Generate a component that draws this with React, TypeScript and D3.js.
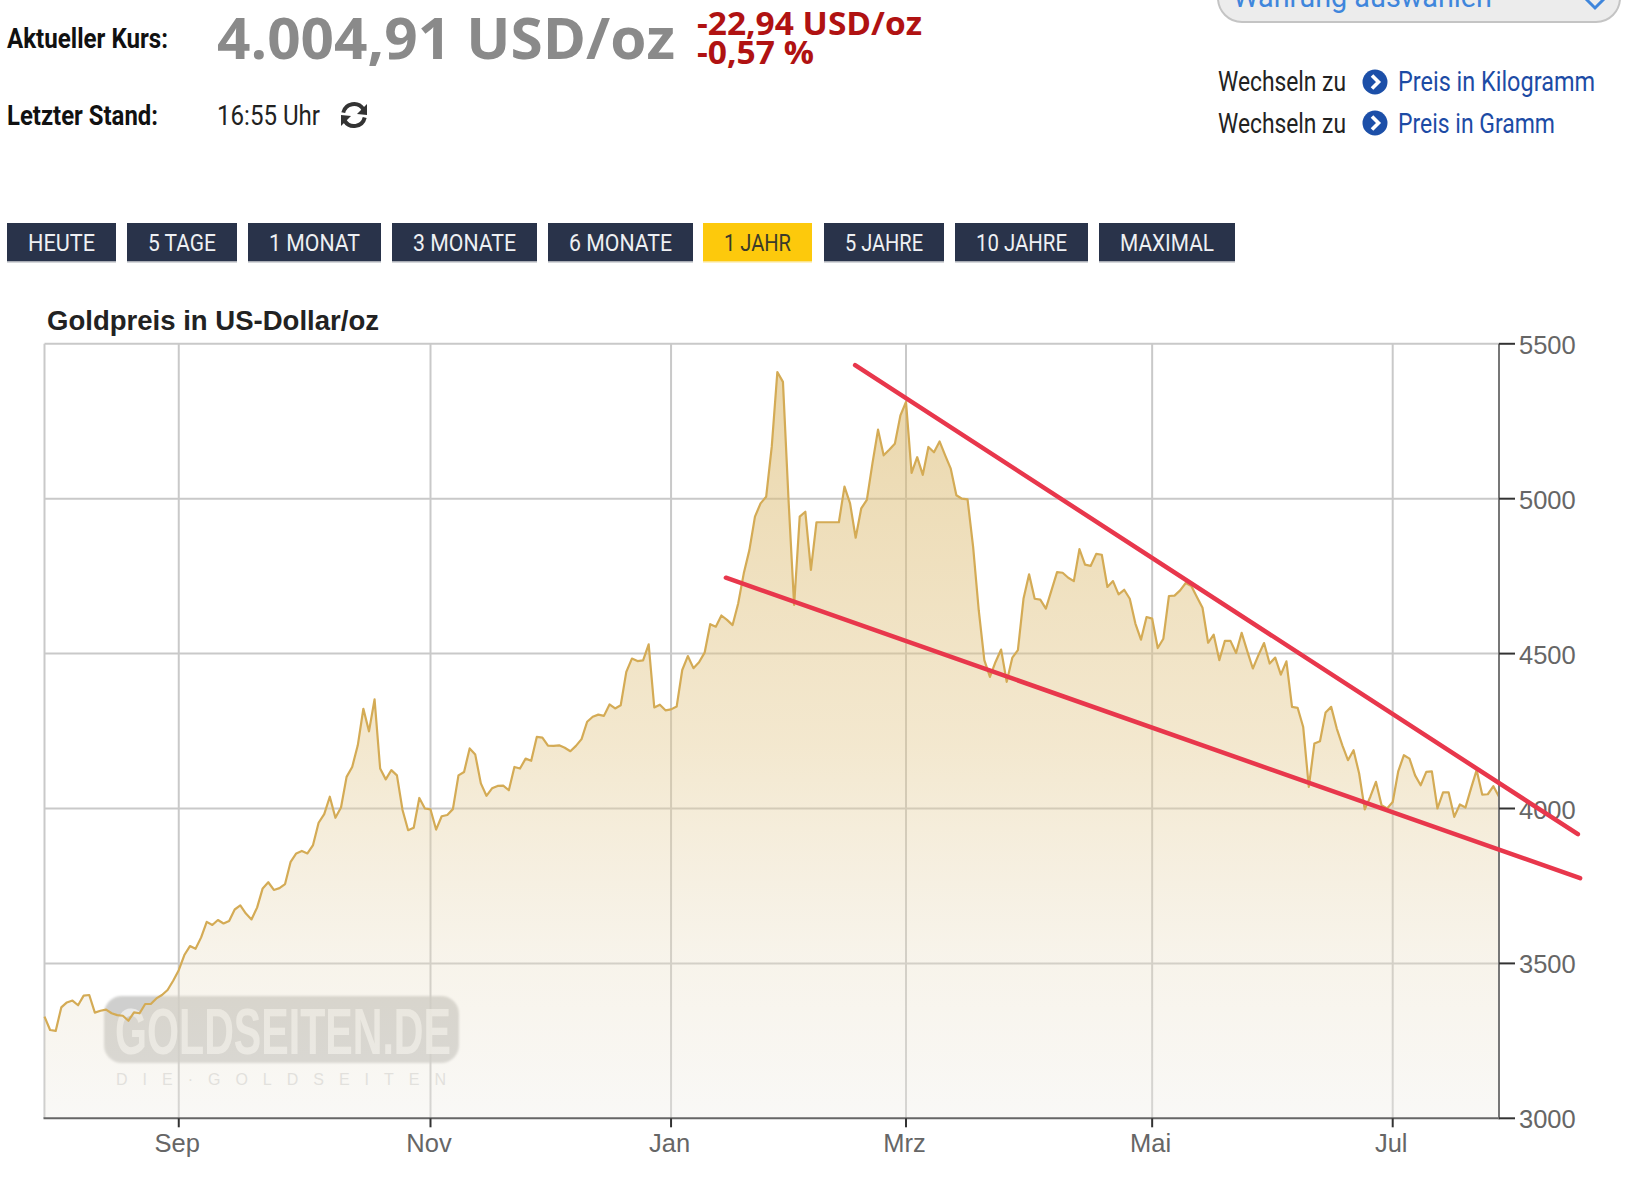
import * as d3 from "d3";

// one closing price per weekday, Jul 30 to Jul 28
const prices = [
  3328, 3285, 3282, 3358, 3374, 3380, 3365, 3396, 3398, 3341, 3347, 3351, 3339, 3333, 3331, 3315, 3342, 3339, 3369, 3369,
  3387, 3398, 3414, 3444, 3478, 3527, 3556, 3547, 3584, 3634, 3624, 3640, 3629, 3637, 3674, 3687, 3661, 3642,
  3680, 3742, 3762, 3737, 3743, 3756, 3828, 3855, 3863, 3855, 3882, 3954, 3982, 4038, 3970, 4003, 4102, 4134, 4204, 4322,
  4249, 4352, 4129, 4094, 4124, 4107, 3995, 3930, 3938, 4034, 4000, 3997, 3932, 3975, 3979, 3998, 4107, 4118,
  4194, 4174, 4081, 4041, 4065, 4073, 4074, 4059, 4134, 4129, 4161, 4154, 4231, 4229, 4203, 4202, 4204, 4196, 4185, 4202,
  4224, 4280, 4296, 4303, 4299, 4336, 4323, 4333, 4441, 4484, 4476, 4478, 4530, 4326, 4335, 4317, 4320,
  4329, 4447, 4492, 4453, 4472, 4503, 4595, 4587, 4623, 4609, 4592, 4662, 4759, 4834, 4942, 4985, 5006, 5168, 5409, 5377,
  4996, 4657, 4942, 4958, 4770, 4924, 4924, 4924, 4924, 4924, 5039, 4985, 4874, 4969, 4996, 5114, 5223, 5140,
  5158, 5177, 5269, 5312, 5083, 5134, 5077, 5167, 5150, 5185, 5140, 5097, 5011, 5000, 4998, 4844, 4640, 4479, 4425, 4473,
  4513, 4409, 4487, 4511, 4677, 4756, 4677, 4674, 4645, 4704, 4763, 4761, 4745, 4734, 4837, 4787, 4783,
  4822, 4819, 4715, 4734, 4691, 4706, 4677, 4597, 4545, 4618, 4613, 4518, 4548, 4686, 4687, 4704, 4728, 4718, 4683, 4648,
  4535, 4561, 4479, 4541, 4541, 4502, 4567, 4508, 4452, 4495, 4534, 4468, 4487, 4432, 4475, 4328, 4325, 4263,
  4070, 4210, 4217, 4310, 4328, 4258, 4204, 4156, 4188, 4113, 3997, 4038, 4086, 4011, 4000, 4021, 4121, 4172, 4161, 4107,
  4075, 4118, 4120, 4000, 4052, 4052, 3973, 4013, 4003, 4065, 4124, 4045, 4046, 4072, 4038,
];

const monthLabels = ["Sep", "Nov", "Jan", "Mrz", "Mai", "Jul"];
const monthIndex = [24, 69, 112, 154, 198, 241];
const priceTicks = [3000, 3500, 4000, 4500, 5000, 5500];

// hand-drawn trend lines, as [weekday index, price]
const upperTrend: [number, number][] = [[144.9, 5431], [274.1, 3917]];
const lowerTrend: [number, number][] = [[121.8, 4745], [274.5, 3775]];

const rangeLabels = ["HEUTE", "5 TAGE", "1 MONAT", "3 MONATE", "6 MONATE", "1 JAHR", "5 JAHRE", "10 JAHRE", "MAXIMAL"];
const activeRange = "1 JAHR";
const rangeLefts = [7, 127, 248, 392, 548, 703, 824, 955, 1099];
const rangeRights = [116, 237, 381, 537, 693, 812, 944, 1088, 1235];

const width = 1635;
const height = 1200;
const plot = { left: 44.5, right: 1499, top: 343.8, bottom: 1118.3 };
const narrow = "Roboto, sans-serif";
const chartFont = "'Liberation Sans', Arial, sans-serif";

const x = d3.scaleLinear().domain([0, prices.length - 1]).range([plot.left, plot.right]);
const y = d3.scaleLinear().domain([3000, 5500]).range([plot.bottom, plot.top]);

const line = d3.line<number>().x((_, i) => x(i)).y((d) => y(d));
const area = d3.area<number>().x((_, i) => x(i)).y0(plot.bottom).y1((d) => y(d));
const trendPath = d3.line<[number, number]>().x((d) => x(d[0])).y((d) => y(d[1]));

function fitted(text: string, left: number, right: number, baseline: number, size: number, fill: string, weight = 400, font = narrow) {
  return (
    <text x={left} y={baseline} fontFamily={font} fontSize={size} fontWeight={weight} fill={fill} textLength={right - left} lengthAdjust="spacingAndGlyphs">
      {text}
    </text>
  );
}

function RefreshIcon({ cx, cy }: { cx: number; cy: number }) {
  const arc = d3.arc();
  const r = 11;
  const upper = arc({ innerRadius: r - 2, outerRadius: r + 2, startAngle: -1.35, endAngle: 1.0 }) ?? "";
  const lower = arc({ innerRadius: r - 2, outerRadius: r + 2, startAngle: 1.8, endAngle: 4.15 }) ?? "";
  return (
    <g transform={`translate(${cx},${cy})`} fill="#333">
      <path d={upper} />
      <path d={lower} />
      <path d="M13 -11 L13 0 L3 -1 Z" />
      <path d="M-13 11 L-13 0 L-3 1 Z" />
    </g>
  );
}

function LinkBullet({ cx, cy }: { cx: number; cy: number }) {
  return (
    <g transform={`translate(${cx},${cy})`}>
      <circle r={12.5} fill="#1c4fa8" />
      <path d="M-3 -6.5 L3.5 0 L-3 6.5" fill="none" stroke="#fff" strokeWidth={3.6} />
    </g>
  );
}

export default function App() {
  return (
    <svg width={width} height={height} viewBox={`0 0 ${width} ${height}`} style={{ position: "absolute", left: 0, top: 0, display: "block", background: "#fff" }}>
      <defs>
        <linearGradient id="goldFill" x1="0" y1="0" x2="0" y2="1">
          <stop offset="0" stopColor="#d9b565" stopOpacity={0.55} />
          <stop offset="0.5" stopColor="#e3c88c" stopOpacity={0.42} />
          <stop offset="0.78" stopColor="#e8dcc0" stopOpacity={0.33} />
          <stop offset="1" stopColor="#eeece6" stopOpacity={0.35} />
        </linearGradient>
        <filter id="soft" x="-5%" y="-5%" width="110%" height="110%">
          <feGaussianBlur stdDeviation="1.2" />
        </filter>
      </defs>

      {/* header */}
      {fitted("Aktueller Kurs:", 7, 168, 48, 28, "#111", 700)}
      {fitted("4.004,91 USD/oz", 217, 675, 59, 58, "#8a8a8a", 700, "'Open Sans', sans-serif")}
      {fitted("-22,94 USD/oz", 697, 922, 35, 32, "#b01212", 700, "'Open Sans', sans-serif")}
      {fitted("-0,57 %", 697, 814, 64, 32, "#b01212", 700, "'Open Sans', sans-serif")}
      {fitted("Letzter Stand:", 7, 158, 125, 28, "#111", 700)}
      {fitted("16:55 Uhr", 217, 320, 125, 28, "#222")}
      <RefreshIcon cx={354} cy={115} />

      <rect x={1218} y={-40} width={402} height={62} rx={24} fill="#ececec" stroke="#c4c4c4" strokeWidth={2} />
      {fitted("Währung auswählen", 1233, 1492, 7, 30, "#3f86dc")}
      <path d="M1586 -1 L1595 8 L1604 -1" fill="none" stroke="#3f86dc" strokeWidth={3} />

      {fitted("Wechseln zu", 1218, 1346, 91, 28, "#222")}
      <LinkBullet cx={1375} cy={82} />
      {fitted("Preis in Kilogramm", 1398, 1595, 91, 28, "#1c4ba5")}
      {fitted("Wechseln zu", 1218, 1346, 133, 28, "#222")}
      <LinkBullet cx={1375} cy={123} />
      {fitted("Preis in Gramm", 1398, 1555, 133, 28, "#1c4ba5")}

      {/* range buttons */}
      {rangeLabels.map((label, i) => {
        const active = label === activeRange;
        return (
          <g key={label}>
            <rect x={rangeLefts[i]} y={223} width={rangeRights[i] - rangeLefts[i]} height={39} fill={active ? "#fdc90c" : "#29334a"} />
            <rect x={rangeLefts[i]} y={261} width={rangeRights[i] - rangeLefts[i]} height={1.5} fill={active ? "#fbe38a" : "#a9adb5"} />
            {fitted(label, rangeLefts[i] + 21, rangeRights[i] - 21, 251, 24, active ? "#3a3a2a" : "#eef0f3")}
          </g>
        );
      })}

      {/* chart */}
      <text x={47} y={330} fontFamily={chartFont} fontSize={27.4} fontWeight={700} fill="#222" textLength={332} lengthAdjust="spacingAndGlyphs">
        Goldpreis in US-Dollar/oz
      </text>

      {priceTicks.slice(1).map((tick) => (
        <line key={tick} x1={plot.left} x2={plot.right} y1={y(tick)} y2={y(tick)} stroke="#c9c9c9" strokeWidth={2} />
      ))}
      {monthIndex.map((d) => (
        <line key={d} x1={x(d)} x2={x(d)} y1={plot.top} y2={plot.bottom} stroke="#c9c9c9" strokeWidth={2} />
      ))}
      <line x1={plot.left} x2={plot.left} y1={plot.top} y2={plot.bottom} stroke="#c9c9c9" strokeWidth={2} />

      <g>
        <rect x={104} y={996} width={355} height={67} rx={18} fill="#c4c4c2" opacity={0.8} filter="url(#soft)" />
        <text x={115} y={1054} fontFamily={chartFont} fontSize={65} fontWeight={700} fill="#f4f4f2" opacity={0.75} textLength={336} lengthAdjust="spacingAndGlyphs">
          GOLDSEITEN.DE
        </text>
        <text x={116} y={1085} fontFamily={chartFont} fontSize={16} fill="#dcdcdc" textLength={330} lengthAdjust="spacing">
          DIE·GOLDSEITEN
        </text>
      </g>

      <path d={area(prices) ?? ""} fill="url(#goldFill)" />
      <path d={line(prices) ?? ""} fill="none" stroke="#d4ab55" strokeWidth={2.2} strokeLinejoin="round" />

      {/* axes */}
      <line x1={plot.left - 1} x2={plot.right} y1={plot.bottom} y2={plot.bottom} stroke="#666" strokeWidth={2} />
      <line x1={plot.right} x2={plot.right} y1={plot.top} y2={plot.bottom + 1} stroke="#777" strokeWidth={2} />
      {monthIndex.map((d, i) => (
        <g key={d}>
          <line x1={x(d)} x2={x(d)} y1={plot.bottom} y2={plot.bottom + 9} stroke="#333" strokeWidth={2} />
          <text x={x(d) - 1.5} y={1152} textAnchor="middle" fontFamily={chartFont} fontSize={25.5} fill="#666">
            {monthLabels[i]}
          </text>
        </g>
      ))}
      {priceTicks.map((tick) => (
        <g key={tick}>
          <line x1={plot.right} x2={plot.right + 16} y1={y(tick)} y2={y(tick)} stroke="#333" strokeWidth={2} />
          <text x={plot.right + 20} y={y(tick) + 10} fontFamily={chartFont} fontSize={25.5} fill="#666">
            {tick}
          </text>
        </g>
      ))}

      {/* trend lines */}
      <path d={trendPath(upperTrend) ?? ""} fill="none" stroke="#e8374c" strokeWidth={4.5} strokeLinecap="round" />
      <path d={trendPath(lowerTrend) ?? ""} fill="none" stroke="#e8374c" strokeWidth={4.5} strokeLinecap="round" />
    </svg>
  );
}
